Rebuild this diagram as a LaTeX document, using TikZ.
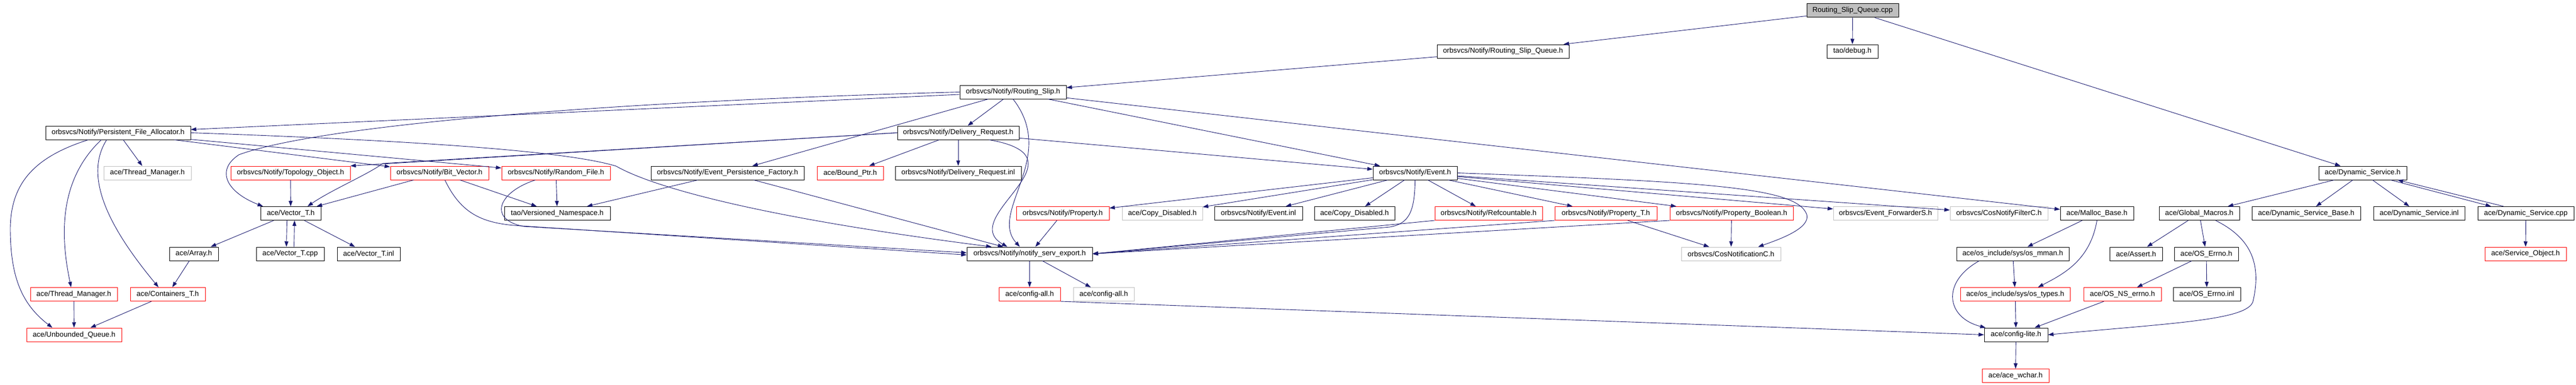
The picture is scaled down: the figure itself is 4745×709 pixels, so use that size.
\documentclass[tikz,border=0pt]{standalone}
\usepackage{fontspec}
\setmainfont{Liberation Sans}
\usepackage{tikz}
\usetikzlibrary{arrows.meta}
\definecolor{edgeblue}{HTML}{191970}
\definecolor{boxgrey}{HTML}{BFBFBF}
\tikzset{hdr/.style={draw=black, line width=1pt, inner sep=0pt, minimum height=25pt,
           font=\fontsize{13.3}{16}\selectfont},
         hdrred/.style={hdr, draw=red},
         hdrgrey/.style={hdr, draw=boxgrey},
         hdrroot/.style={hdr, fill=boxgrey},
         dep/.style={draw=edgeblue, line width=0.9pt, -{Triangle[length=10pt,width=7pt]}}}

\begin{document}
\begin{tikzpicture}[x=1pt, y=-1pt]
		\path[use as bounding box, fill=white] (0,0) rectangle (4745,709);
		% top rows
		\node[hdrroot, minimum width=169pt] (cpp) at (3412.5,19.5) {Routing\_Slip\_Queue.cpp};
		\node[hdr, minimum width=243pt] (rsqh) at (2768.5,94.5) {orbsvcs/Notify/Routing\_Slip\_Queue.h};
		\node[hdr, minimum width=94pt] (debug) at (3412,94.5) {tao/debug.h};
		\node[hdr, minimum width=196pt] (rslip) at (1866,169.5) {orbsvcs/Notify/Routing\_Slip.h};
		\node[hdr, minimum width=267pt] (pfa) at (217.5,244.5) {orbsvcs/Notify/Persistent\_File\_Allocator.h};
		\node[hdr, minimum width=224pt] (delreq) at (1765,244.5) {orbsvcs/Notify/Delivery\_Request.h};
		% row 3
		\node[hdrgrey, minimum width=161pt] (thrmgrx) at (271.5,318.5) {ace/Thread\_Manager.h};
		\node[hdrred, minimum width=220pt] (topo) at (535,318.5) {orbsvcs/Notify/Topology\_Object.h};
		\node[hdrred, minimum width=181pt] (bitvec) at (809.5,318.5) {orbsvcs/Notify/Bit\_Vector.h};
		\node[hdrred, minimum width=200pt] (randf) at (1024,318.5) {orbsvcs/Notify/Random\_File.h};
		\node[hdr, minimum width=282pt] (epf) at (1340,318.5) {orbsvcs/Notify/Event\_Persistence\_Factory.h};
		\node[hdrred, minimum width=122pt] (bptr) at (1566,318.5) {ace/Bound\_Ptr.h};
		\node[hdr, minimum width=232pt] (delinl) at (1765,318.5) {orbsvcs/Notify/Delivery\_Request.inl};
		\node[hdr, minimum width=155pt] (event) at (2606.5,318.5) {orbsvcs/Notify/Event.h};
		\node[hdr, minimum width=162pt] (dynsvc) at (4352,318.5) {ace/Dynamic\_Service.h};
		% row 4
		\node[hdr, minimum width=111pt] (vect) at (535.5,393) {ace/Vector\_T.h};
		\node[hdr, minimum width=195pt] (vns) at (1026.5,393) {tao/Versioned\_Namespace.h};
		\node[hdrred, minimum width=171pt] (prop) at (1957.5,393) {orbsvcs/Notify/Property.h};
		\node[hdrgrey, minimum width=148pt] (copyx) at (2141,393) {ace/Copy\_Disabled.h};
		\node[hdr, minimum width=162pt] (evinl) at (2318,393) {orbsvcs/Notify/Event.inl};
		\node[hdr, minimum width=148pt] (copy) at (2495,393) {ace/Copy\_Disabled.h};
		\node[hdrred, minimum width=198pt] (refc) at (2742,393) {orbsvcs/Notify/Refcountable.h};
		\node[hdrred, minimum width=188pt] (propt) at (2958,393) {orbsvcs/Notify/Property\_T.h};
		\node[hdrred, minimum width=227pt] (propb) at (3189.5,393) {orbsvcs/Notify/Property\_Boolean.h};
		\node[hdrgrey, minimum width=192pt] (evfwd) at (3473,393) {orbsvcs/Event\_ForwarderS.h};
		\node[hdrgrey, minimum width=180pt] (cnfc) at (3682,393) {orbsvcs/CosNotifyFilterC.h};
		\node[hdr, minimum width=135pt] (malloc) at (3862.5,393) {ace/Malloc\_Base.h};
		\node[hdr, minimum width=148pt] (gmac) at (4051,393) {ace/Global\_Macros.h};
		\node[hdr, minimum width=200pt] (dsbase) at (4248,393) {ace/Dynamic\_Service\_Base.h};
		\node[hdr, minimum width=168pt] (dsinl) at (4456,393) {ace/Dynamic\_Service.inl};
		\node[hdr, minimum width=177pt] (dscpp) at (4652.5,393) {ace/Dynamic\_Service.cpp};
		% row 5
		\node[hdr, minimum width=90pt] (array) at (357,467.5) {ace/Array.h};
		\node[hdr, minimum width=125pt] (vecpp) at (534.5,467.5) {ace/Vector\_T.cpp};
		\node[hdr, minimum width=116pt] (vecinl) at (679,467.5) {ace/Vector\_T.inl};
		\node[hdr, minimum width=231pt] (nse) at (1896.5,467.5) {orbsvcs/Notify/notify\_serv\_export.h};
		\node[hdrgrey, minimum width=183pt] (cnc) at (3188.5,467.5) {orbsvcs/CosNotificationC.h};
		\node[hdr, minimum width=207pt] (mman) at (3707.5,467.5) {ace/os\_include/sys/os\_mman.h};
		\node[hdr, minimum width=97pt] (assert) at (3934.5,467.5) {ace/Assert.h};
		\node[hdr, minimum width=118pt] (oserr) at (4064,467.5) {ace/OS\_Errno.h};
		\node[hdrred, minimum width=150pt] (svcobj) at (4652,467.5) {ace/Service\_Object.h};
		% row 6 and below
		\node[hdrred, minimum width=160pt] (thrmgr) at (136,542) {ace/Thread\_Manager.h};
		\node[hdrred, minimum width=138pt] (cont) at (309,542) {ace/Containers\_T.h};
		\node[hdrred, minimum width=113pt] (cfgall) at (1896.5,542) {ace/config-all.h};
		\node[hdrgrey, minimum width=112pt] (cfgallx) at (2033,542) {ace/config-all.h};
		\node[hdrred, minimum width=202pt] (ostypes) at (3712,542) {ace/os\_include/sys/os\_types.h};
		\node[hdrred, minimum width=143pt] (osnserr) at (3909.5,542) {ace/OS\_NS\_errno.h};
		\node[hdr, minimum width=124pt] (oserrinl) at (4065,542) {ace/OS\_Errno.inl};
		\node[hdrred, minimum width=175pt] (unbq) at (136.5,616.5) {ace/Unbounded\_Queue.h};
		\node[hdr, minimum width=117pt] (cfglite) at (3713.5,616.5) {ace/config-lite.h};
		\node[hdrred, minimum width=123pt] (wchar) at (3712.5,692) {ace/ace\_wchar.h};
		% straight includes
		\foreach \a/\b in {cpp/rsqh, cpp/debug, cpp/dynsvc, rsqh/rslip, rslip/pfa, rslip/delreq,
		    rslip/epf, rslip/event, rslip/malloc, pfa/thrmgrx, pfa/bitvec, pfa/randf,
		    delreq/bptr, delreq/delinl, delreq/event, epf/vns, epf/nse, topo/vect,
		    bitvec/vect, bitvec/vns, randf/vns, vect/array, vect/vecinl, array/cont,
		    thrmgr/unbq, cont/unbq, event/prop, event/copyx, event/evinl, event/copy,
		    event/refc, event/propt, event/propb, event/evfwd, event/cnfc, prop/nse,
		    propt/cnc, propb/cnc, nse/cfgall, nse/cfgallx,
		    malloc/mman, mman/ostypes, ostypes/cfglite, osnserr/cfglite,
		    cfglite/wchar, dynsvc/gmac, dynsvc/dsbase, dynsvc/dsinl, dscpp/svcobj,
		    gmac/assert, gmac/oserr, oserr/osnserr, oserr/oserrinl}
		    \draw[dep] (\a) -- (\b);
		\foreach \a in {refc, propt, propb}
		    \draw[dep] (\a.south west) -- (nse.east);
		\draw[dep] (cfgall.south east) -- (cfglite.west);
		% bent includes
		\draw[dep] (rslip.west) .. controls (1000,190) and (560,240) .. (440,285)
		    .. controls (395,315) and (420,355) .. ([xshift=5pt]vect.north west);
		\draw[dep] (rslip.south) .. controls (1950,290) and (1820,390) .. ([xshift=-18pt]nse.north);
		\draw[dep] (pfa.east) .. controls (800,260) and (1050,280) .. (1135,306)
		    .. controls (1160,320) and (1280,385) .. ([xshift=-70pt]nse.north);
		\draw[dep] ([xshift=-55pt]pfa.south) .. controls (60,290) and (20,340) .. (19,420)
		    .. controls (19,510) and (40,560) .. ([xshift=-40pt]unbq.north);
		\draw[dep] ([xshift=-31pt]pfa.south) .. controls (110,330) and (110,430) .. ([xshift=-5pt]thrmgr.north);
		\draw[dep] ([xshift=-21pt]pfa.south) .. controls (150,330) and (210,430) .. ([xshift=-17pt]cont.north);
		\draw[dep] (delreq.west) -- (topo.north east);
		\draw[dep] (delreq.west) -- (705,301) .. controls (680,320) and (610,350) .. ([xshift=-25pt]vect.north east);
		\draw[dep] ([xshift=57pt]delreq.south) .. controls (2010,290) and (1760,400) .. ([xshift=-41pt]nse.north);
		\draw[dep] ([xshift=10pt]bitvec.south) .. controls (850,395) and (890,412) .. (960,416)
		    -- ([yshift=-2pt]nse.west);
		\draw[dep] ([xshift=-38pt]randf.south) .. controls (915,355) and (900,405) .. (965,417)
		    -- ([yshift=2pt]nse.west);
		\draw[dep] ([xshift=-7pt]vect.south) -- ([xshift=-7pt]vecpp.north);
		\draw[dep] ([xshift=7pt]vecpp.north) -- ([xshift=7pt]vect.south);
		\draw[dep] (event.south) .. controls (2606,390) and (2595,412) .. (2560,418) -- (nse.east);
		\draw[dep] (event.east) .. controls (3150,335) and (3310,345) .. (3328,395)
		    .. controls (3335,420) and (3280,440) .. ([xshift=50pt]cnc.north);
		\draw[dep] (malloc.south) .. controls (3850,480) and (3800,505) .. ([xshift=42pt]ostypes.north);
		\draw[dep] ([xshift=-62pt]mman.south) .. controls (3575,520) and (3585,585) .. ([xshift=-56pt]cfglite.north);
		\draw[dep] ([xshift=30pt]gmac.south) .. controls (4150,440) and (4165,490) .. (4150,555)
		    .. controls (4140,590) and (4000,595) .. (cfglite.east);
		\draw[dep] ([xshift=-30pt]dynsvc.south east) -- ([xshift=-64pt]dscpp.north);
		\draw[dep] ([xshift=-41pt]dscpp.north) -- ([xshift=-17pt]dynsvc.south east);
	\end{tikzpicture}
\end{document}
